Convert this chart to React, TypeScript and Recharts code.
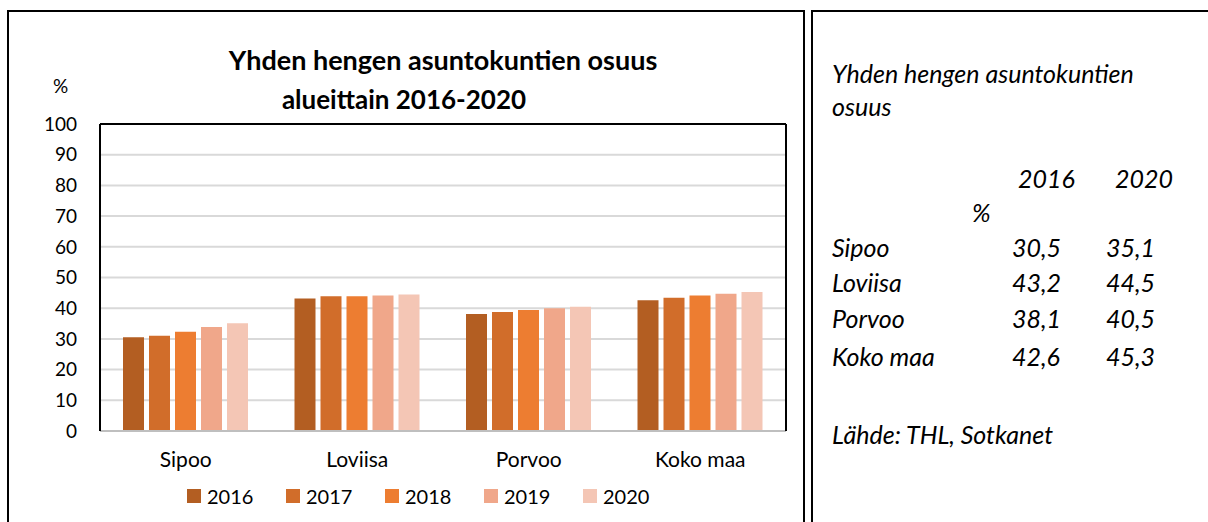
import { BarChart, Bar, XAxis, YAxis, CartesianGrid, ReferenceLine } from 'recharts';

const regions = ['Sipoo', 'Loviisa', 'Porvoo', 'Koko maa'];
const years = ['2016', '2017', '2018', '2019', '2020'];
const v2016 = [30.5, 43.2, 38.1, 42.6];
const v2017 = [31.0, 43.9, 38.8, 43.4];
const v2018 = [32.3, 43.9, 39.4, 44.1];
const v2019 = [33.9, 44.1, 40.0, 44.7];
const v2020 = [35.1, 44.5, 40.5, 45.3];
const yTicks = [0, 10, 20, 30, 40, 50, 60, 70, 80, 90, 100];
const colors = ['#B35E22', '#D16D2A', '#ED7D31', '#F0A78A', '#F4C6B5'];

const series = [v2016, v2017, v2018, v2019, v2020];
const data = regions.map((name, i) => {
  const row: Record<string, string | number> = { name };
  years.forEach((y, j) => (row[y] = series[j][i]));
  return row;
});

const font = 'Lato, "Open Sans", sans-serif';
const fmt = (v: number) => v.toFixed(1).replace('.', ',');

function Txt({ x, y, size, children, bold, italic, center }: any) {
  return (
    <div
      style={{
        position: 'absolute',
        left: center ? x - 300 : x,
        width: center ? 600 : undefined,
        textAlign: center ? 'center' : 'left',
        top: y - size * 0.6,
        fontSize: size,
        lineHeight: `${size * 1.2}px`,
        fontWeight: bold ? 700 : 400,
        fontStyle: italic ? 'italic' : 'normal',
        whiteSpace: 'nowrap',
        color: '#000',
      }}
    >
      {children}
    </div>
  );
}

export default function App() {
  const rowY = [247, 282, 318, 356];
  const rs = 25;
  return (
    <div style={{ position: 'absolute', left: 0, top: 0, width: 1208, height: 522, overflow: 'hidden', fontFamily: font, background: '#fff' }}>
      {/* left panel frame */}
      <div style={{ position: 'absolute', left: 7, top: 10, width: 794, height: 530, border: '2px solid #000' }} />
      {/* right panel frame */}
      <div style={{ position: 'absolute', left: 811, top: 10, width: 420, height: 530, border: '2px solid #000' }} />

      <Txt x={443} y={60} size={27} bold center>Yhden hengen asuntokuntien osuus</Txt>
      <Txt x={404} y={100} size={26} bold center>alueittain 2016-2020</Txt>
      <Txt x={53} y={86} size={19}>%</Txt>

      <div style={{ position: 'absolute', left: 0, top: 0 }}>
        <BarChart width={805} height={522} data={data} barSize={21} barGap={5}
          margin={{ top: 124, right: 18, bottom: 31, left: 0 }}>
          <CartesianGrid vertical={false} stroke="#D9D9D9" strokeWidth={2} />
          <XAxis dataKey="name" axisLine={{ stroke: '#BFBFBF', strokeWidth: 2 }} tickLine={false} tickSize={0}
            tickMargin={21} height={60} interval={0}
            tick={{ fill: '#000', fontSize: 21, fontFamily: font }} />
          <YAxis domain={[0, 100]} ticks={yTicks} width={100} tickLine={false} tickSize={0} tickMargin={23}
            axisLine={{ stroke: '#000', strokeWidth: 2 }} interval={0}
            tick={{ fill: '#000', fontSize: 19, fontFamily: font }} />
          <YAxis yAxisId="r" orientation="right" domain={[0, 100]} width={1} tick={false} tickLine={false}
            axisLine={{ stroke: '#000', strokeWidth: 2 }} />
          <ReferenceLine y={100} stroke="#000" strokeWidth={2} />
          {years.map((y, j) => (
            <Bar key={y} dataKey={y} fill={colors[j]} isAnimationActive={false} />
          ))}
        </BarChart>
      </div>

      {/* legend */}
      <div style={{ position: 'absolute', left: 187, top: 484, display: 'flex', fontSize: 20 }}>
        {years.map((y, j) => (
          <div key={y} style={{ display: 'flex', alignItems: 'center', width: 99 }}>
            <span style={{ display: 'inline-block', width: 14, height: 14, background: colors[j], marginRight: 6 }} />
            <span>{y}</span>
          </div>
        ))}
      </div>

      {/* right text panel */}
      <Txt x={832} y={73} size={rs} italic>Yhden hengen asuntokuntien</Txt>
      <Txt x={832} y={106} size={rs} italic>osuus</Txt>
      <Txt x={1018} y={178} size={rs} italic>{years[0]}</Txt>
      <Txt x={1115} y={178} size={rs} italic>{years[4]}</Txt>
      <Txt x={972} y={212} size={rs} italic>%</Txt>
      {regions.map((r, i) => (
        <div key={r}>
          <Txt x={832} y={rowY[i]} size={rs} italic>{r}</Txt>
          <Txt x={1012} y={rowY[i]} size={rs} italic>{fmt(v2016[i])}</Txt>
          <Txt x={1106} y={rowY[i]} size={rs} italic>{fmt(v2020[i])}</Txt>
        </div>
      ))}
      <Txt x={832} y={434} size={rs} italic>Lähde: THL, Sotkanet</Txt>
    </div>
  );
}
